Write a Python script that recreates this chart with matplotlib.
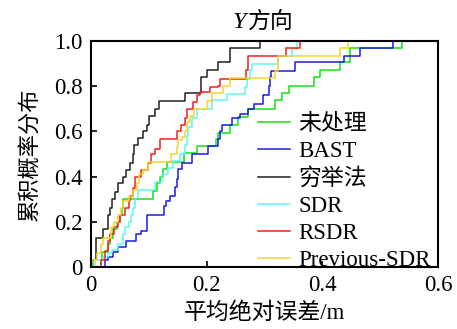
import matplotlib
matplotlib.use("Agg")
import matplotlib.pyplot as plt
import numpy as np

plt.rcParams['font.family'] = ['Liberation Serif', 'Noto Sans CJK SC']

# ---- data: step positions (x) and cumulative levels (y) ----
labels = ["未处理", "BAST", "穷举法", "SDR", "RSDR", "Previous-SDR"]
colors = ["#14e014", "#1a1ae6", "#202020", "#5ff5f5", "#f02020", "#f8d22c"]

raw_x = [0.017, 0.019, 0.029, 0.033, 0.038, 0.045, 0.050, 0.053, 0.056, 0.108, 0.114, 0.119,
         0.125, 0.131, 0.160, 0.183, 0.217, 0.220, 0.240, 0.255, 0.272, 0.318, 0.330, 0.342,
         0.385, 0.396, 0.431, 0.448, 0.537]
raw_y = [0.03, 0.065, 0.10, 0.13, 0.17, 0.20, 0.23, 0.26, 0.30, 0.335, 0.37, 0.40,
         0.435, 0.465, 0.505, 0.535, 0.565, 0.595, 0.63, 0.665, 0.70, 0.74, 0.77, 0.80,
         0.84, 0.87, 0.905, 0.97, 1.0]

bast_x = [0.024, 0.030, 0.038, 0.047, 0.061, 0.078, 0.087, 0.096, 0.127, 0.130, 0.136, 0.145,
          0.148, 0.150, 0.157, 0.174, 0.203, 0.220, 0.223, 0.226, 0.243, 0.258, 0.272, 0.281,
          0.298, 0.307, 0.310, 0.312, 0.353, 0.437, 0.465, 0.523]
bast_y = [0.03, 0.045, 0.065, 0.087, 0.116, 0.146, 0.16, 0.23, 0.27, 0.293, 0.315, 0.352,
          0.39, 0.433, 0.462, 0.50, 0.536, 0.565, 0.60, 0.63, 0.66, 0.675, 0.70, 0.72,
          0.76, 0.80, 0.84, 0.868, 0.905, 0.935, 0.97, 1.0]

exh_x = [0.004, 0.009, 0.020, 0.030, 0.032, 0.036, 0.041, 0.047, 0.055, 0.061, 0.068, 0.073,
         0.075, 0.082, 0.090, 0.096, 0.101, 0.110, 0.118, 0.162, 0.191, 0.200, 0.220, 0.241, 0.292]
exh_y = [0.03, 0.13, 0.17, 0.23, 0.26, 0.30, 0.33, 0.37, 0.40, 0.43, 0.46, 0.50,
         0.54, 0.57, 0.60, 0.63, 0.67, 0.70, 0.735, 0.77, 0.84, 0.87, 0.905, 0.97, 1.0]

sdr_x = [0.007, 0.021, 0.030, 0.036, 0.047, 0.056, 0.059, 0.065, 0.070, 0.073, 0.076, 0.082,
         0.111, 0.122, 0.134, 0.142, 0.154, 0.163, 0.166, 0.168, 0.174, 0.183, 0.209, 0.235,
         0.267, 0.269, 0.275, 0.278, 0.324, 0.347, 0.356]
sdr_y = [0.03, 0.045, 0.06, 0.075, 0.10, 0.145, 0.175, 0.20, 0.23, 0.26, 0.305, 0.34,
         0.375, 0.41, 0.44, 0.47, 0.50, 0.54, 0.58, 0.62, 0.66, 0.70, 0.74, 0.765,
         0.795, 0.83, 0.87, 0.90, 0.935, 0.965, 1.0]

rsdr_x = [0.018, 0.024, 0.029, 0.033, 0.040, 0.047, 0.050, 0.058, 0.065, 0.068, 0.072, 0.076,
          0.087, 0.099, 0.104, 0.110, 0.119, 0.148, 0.156, 0.162, 0.166, 0.177, 0.183, 0.189,
          0.206, 0.220, 0.223, 0.268, 0.272, 0.338, 0.361]
rsdr_y = [0.03, 0.07, 0.115, 0.145, 0.175, 0.20, 0.23, 0.26, 0.29, 0.315, 0.35, 0.40,
          0.43, 0.46, 0.50, 0.52, 0.565, 0.60, 0.63, 0.66, 0.70, 0.73, 0.76, 0.775,
          0.795, 0.80, 0.83, 0.87, 0.935, 0.97, 1.0]

prev_x = [0.003, 0.010, 0.017, 0.021, 0.035, 0.040, 0.047, 0.052, 0.056, 0.065, 0.073, 0.079,
          0.083, 0.090, 0.099, 0.138, 0.148, 0.151, 0.157, 0.162, 0.166, 0.171, 0.178, 0.200,
          0.209, 0.229, 0.240, 0.318, 0.324, 0.431, 0.445]
prev_y = [0.03, 0.06, 0.10, 0.13, 0.175, 0.20, 0.23, 0.26, 0.29, 0.31, 0.34, 0.37,
          0.41, 0.43, 0.465, 0.50, 0.53, 0.56, 0.575, 0.60, 0.64, 0.67, 0.70, 0.735,
          0.77, 0.80, 0.835, 0.868, 0.935, 0.97, 1.0]

series_x = [raw_x, bast_x, exh_x, sdr_x, rsdr_x, prev_x]
series_y = [raw_y, bast_y, exh_y, sdr_y, rsdr_y, prev_y]

xticks = [0, 0.2, 0.4, 0.6]
xticklabels = ["0", "0.2", "0.4", "0.6"]
yticks = [0, 0.2, 0.4, 0.6, 0.8, 1.0]
yticklabels = ["0", "0.2", "0.4", "0.6", "0.8", "1.0"]

fig = plt.figure(figsize=(4.57, 3.29), dpi=100)
ax = fig.add_axes([91/457, 1 - 267/329, (438 - 91)/457, (267 - 41)/329])

handles = []
for xs, ys, c, lab in zip(series_x, series_y, colors, labels):
    x = np.concatenate([[0.0], xs])
    y = np.concatenate([[0.0], ys])
    h, = ax.plot(x, y, drawstyle='steps-post', color=c, lw=1.1, label=lab)
    handles.append(h)

ax.set_xlim(0, 0.6)
ax.set_ylim(0, 1.0)
ax.set_xticks(xticks)
ax.set_xticklabels(xticklabels)
ax.set_yticks(yticks)
ax.set_yticklabels(yticklabels)
ax.tick_params(direction='in', length=4, width=1.2, labelsize=16.5, top=False, right=False)
ax.tick_params(axis='x', pad=6)
ax.tick_params(axis='y', pad=6)
for s in ax.spines.values():
    s.set_linewidth(1.5)

# title "Y方向" (italic Y)
fig.text(246/457, 1 - 22/329, "Y", fontsize=17.5, style='italic', family='Liberation Serif',
         ha='right', va='center')
fig.text(248/457, 1 - 21/329, "方向", fontsize=16.5, family='Noto Sans CJK SC',
         ha='left', va='center')

ax.set_xlabel("平均绝对误差/m", fontsize=16.5, labelpad=4)
ax.set_ylabel("累积概率分布", fontsize=16, labelpad=10)

leg = fig.legend(handles=handles, labels=labels, loc='upper left',
                 bbox_to_anchor=(258/457, 1 - 114/329), bbox_transform=fig.transFigure,
                 frameon=False, fontsize=16.5, handlelength=1.4, handletextpad=0.35,
                 labelspacing=0.26, borderpad=0, borderaxespad=0)

fig.savefig("out.png", dpi=100)
